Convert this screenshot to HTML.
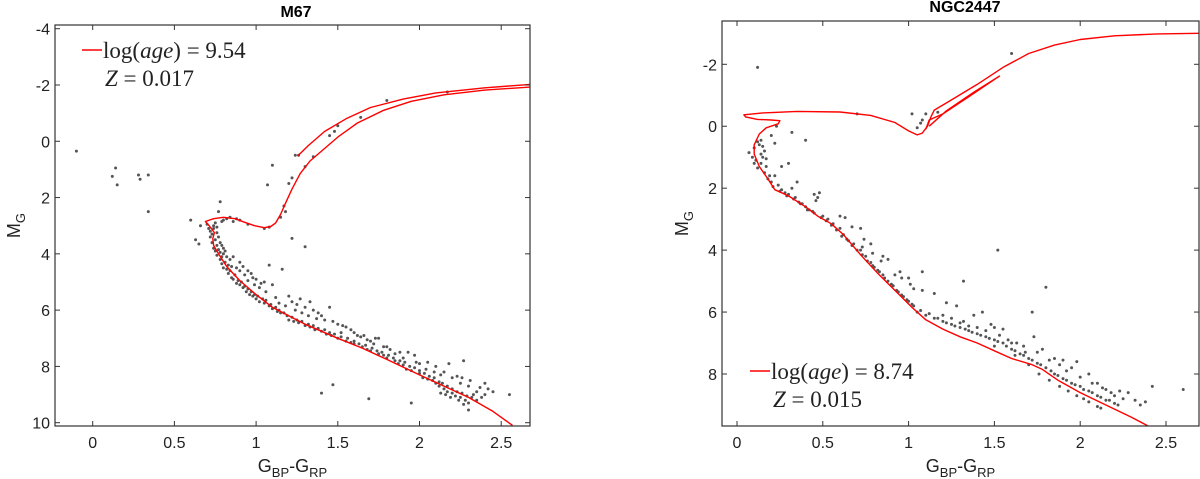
<!DOCTYPE html>
<html><head><meta charset="utf-8">
<style>
html,body{margin:0;padding:0;background:#fff;}
svg{display:block;font-family:"Liberation Sans",sans-serif;}
</style></head>
<body>
<svg id="fig" width="1200" height="479" viewBox="0 0 1200 479"></svg>
<script>
// ===== M67 data =====
const m67IsoMain = [[2.57,10.1],[2.45,9.6],[2.3,9.1],[2.15,8.7],[2.0,8.3],[1.8,7.75],[1.65,7.35],[1.5,7.0],[1.3,6.5],[1.2,6.2],[1.1,5.9],[1.0,5.45],[0.9,4.95],[0.82,4.45],[0.77,4.0],[0.74,3.7],[0.735,3.45],[0.745,3.25],[0.72,3.05],[0.69,2.85],[0.74,2.75],[0.8,2.7],[0.87,2.75],[0.93,2.88],[0.99,3.0],[1.05,3.07],[1.09,3.03],[1.12,2.9],[1.15,2.6],[1.18,2.2],[1.22,1.7],[1.27,1.15],[1.33,0.7],[1.4,0.35],[1.5,-0.15],[1.62,-0.65],[1.78,-1.1],[1.95,-1.42],[2.15,-1.65],[2.4,-1.82],[2.68,-1.93]];
const m67IsoHB = [[1.255,0.52],[1.32,0.15],[1.42,-0.35],[1.55,-0.8],[1.7,-1.2],[1.9,-1.5],[2.1,-1.72],[2.4,-1.9],[2.68,-2.02]];
const m67Stars = [[-0.1,0.35],[0.12,1.25],[0.14,0.95],[0.15,1.55],[0.28,1.2],[0.29,1.35],[0.34,1.2],[0.34,2.5],[0.6,2.8],[0.63,3.5],[0.65,3.65],[0.66,3.0],[0.7,2.95],[0.71,3.1],[0.72,3.2],[0.73,3.3],[0.74,3.0],[0.75,2.9],[0.76,3.05],[0.77,2.5],[0.78,2.15],[0.8,2.8],[0.72,3.4],[0.73,3.6],[0.74,3.8],[0.75,3.9],[0.76,4.05],[0.78,4.2],[0.79,4.35],[0.8,4.5],[0.82,4.55],[0.83,4.7],[0.85,4.85],[0.86,4.9],[0.88,5.05],[0.9,5.1],[0.92,5.2],[0.94,5.35],[0.96,5.45],[0.98,5.5],[1.0,5.6],[1.02,5.7],[1.05,5.75],[1.08,5.85],[1.1,5.95],[1.13,6.05],[1.15,6.1],[0.78,3.6],[0.8,3.8],[0.84,4.2],[0.86,4.1],[0.9,4.3],[0.92,4.45],[0.95,4.6],[0.97,4.7],[0.98,4.85],[1.0,4.9],[1.03,5.05],[1.05,5.0],[1.1,5.1],[1.08,4.4],[1.16,4.55],[1.2,5.5],[1.22,5.7],[1.25,5.8],[1.27,5.6],[1.3,5.9],[1.33,5.7],[1.38,6.1],[1.4,6.2],[1.45,5.9],[1.2,6.35],[1.23,6.4],[1.26,6.45],[1.3,6.55],[1.33,6.6],[1.36,6.7],[1.4,6.75],[1.43,6.85],[1.46,6.9],[1.5,7.0],[1.52,6.8],[1.55,7.1],[1.58,7.15],[1.6,7.2],[1.62,6.9],[1.65,7.3],[1.68,7.4],[1.7,7.45],[1.72,7.2],[1.75,7.55],[1.78,7.6],[1.8,7.7],[1.82,7.4],[1.85,7.8],[1.87,7.9],[1.9,7.95],[1.92,8.1],[1.95,8.15],[1.97,7.6],[2.0,8.25],[2.02,8.4],[2.05,8.45],[2.08,8.5],[2.1,8.6],[2.12,8.7],[2.15,8.8],[2.17,8.9],[2.2,8.95],[2.22,9.05],[2.25,9.1],[2.28,9.2],[2.3,9.3],[2.05,7.85],[2.1,8.0],[2.15,8.2],[2.2,8.4],[2.25,8.6],[2.3,8.7],[2.35,8.9],[2.4,9.0],[2.42,8.8],[2.55,9.0],[2.18,7.9],[2.27,7.8],[2.13,8.3],[2.23,8.35],[1.93,7.5],[1.98,7.85],[1.88,7.5],[1.5,6.5],[1.55,6.6],[1.6,6.8],[1.66,6.9],[1.7,7.1],[1.75,7.0],[1.8,7.3],[1.4,8.95],[1.47,8.65],[1.69,9.15],[1.95,9.3],[2.3,9.55],[1.1,0.85],[1.07,1.55],[1.2,1.5],[1.22,1.3],[1.24,0.5],[1.26,0.5],[1.3,0.9],[1.35,0.55],[1.5,-0.55],[1.48,-0.35],[1.45,-0.2],[1.64,-0.85],[1.8,-1.45],[2.17,-1.75],[1.22,3.45],[1.3,3.75],[1.17,2.3],[1.18,2.5],[1.15,2.7],[0.9,2.8],[0.95,2.95],[1.05,3.1],[1.08,3.05],[0.88,2.75],[0.82,2.75],
[0.74,3.1],[0.75,3.5],[0.76,3.7],[0.77,3.85],[0.78,3.95],[0.79,4.1],[0.81,4.3],[0.83,4.4],[0.84,4.6],[0.87,4.75],[0.89,4.95],[0.91,5.0],[0.93,5.15],[0.95,5.25],[0.97,5.35],[0.99,5.45],[1.01,5.5],[1.04,5.6],[1.06,5.65],[1.09,5.8],[1.12,5.9],[1.14,6.0],[1.17,6.1],[1.19,6.2],[1.22,6.25],[1.25,6.35],[1.28,6.4],[1.32,6.5],[1.35,6.55],[1.38,6.65],[1.42,6.7],[1.45,6.8],[1.48,6.85],[1.52,6.95],[1.56,7.0],[1.6,7.1],[1.63,7.2],[1.67,7.25],[1.71,7.35],[1.74,7.45],[1.77,7.5],[1.81,7.6],[1.84,7.7],[1.88,7.8],[1.91,7.85],[1.94,8.0],[1.97,8.05],[2.0,8.15],[2.03,8.25],[2.06,8.35],[2.09,8.4],[2.12,8.55],[2.14,8.6],[2.17,8.7],[2.2,8.8],[2.23,8.9],[2.26,8.95],[2.29,9.05],[2.32,9.1],[2.35,9.2],[2.19,9.1],[2.16,9.0],[2.13,8.95],[2.24,9.2],[2.27,9.35],[2.33,9.0],[2.37,8.75],[2.4,8.6],[2.38,9.1],[2.45,8.9],[2.26,8.4],[2.31,8.5],[2.09,8.2],[2.04,8.1],[2.0,7.9],[1.9,7.7],[1.85,7.55],[1.78,7.3],[1.73,7.0],[1.68,7.05],[1.64,6.95],[1.58,6.7],[1.53,6.55],[1.47,6.4],[1.42,6.35],[1.37,6.3],[1.35,6.0],[1.32,6.2],[1.28,6.1],[1.24,6.0],[1.18,5.85],[1.14,5.75],[1.12,5.55],[1.06,5.35],[1.02,5.2],[0.99,5.1],[0.95,4.95],[0.93,4.75],[0.9,4.6],[0.88,4.5],[0.85,4.45],[0.82,4.1],[0.8,4.0],[0.79,3.7],[0.81,3.9],[0.77,3.4],[0.76,3.25],[0.79,2.85],[0.84,2.7],[0.86,2.85]];

// ===== NGC2447 data =====
const n2447IsoMain = [[2.41,9.72],[2.3,9.4],[2.15,9.0],[2.0,8.6],[1.87,8.2],[1.78,7.85],[1.72,7.7],[1.6,7.5],[1.5,7.25],[1.4,7.0],[1.3,6.8],[1.2,6.55],[1.1,6.25],[1.02,5.85],[0.92,5.3],[0.82,4.75],[0.72,4.15],[0.62,3.5],[0.55,3.15],[0.47,2.9],[0.4,2.6],[0.3,2.25],[0.22,2.05],[0.18,1.7],[0.13,1.3],[0.1,0.9],[0.1,0.6],[0.13,0.25],[0.17,0.05],[0.24,-0.08],[0.25,-0.18],[0.2,-0.2],[0.12,-0.22],[0.05,-0.3],[0.04,-0.37],[0.15,-0.43],[0.35,-0.48],[0.6,-0.46],[0.78,-0.35],[0.92,-0.12],[1.0,0.15],[1.05,0.28],[1.08,0.22],[1.11,0.0],[1.13,-0.3],[1.15,-0.52],[1.25,-0.85],[1.4,-1.35],[1.55,-1.9],[1.7,-2.35],[1.85,-2.62],[2.0,-2.8],[2.2,-2.92],[2.45,-2.98],[2.72,-3.0]];
const n2447IsoLoop = [[1.1,0.1],[1.12,-0.2],[1.2,-0.4],[1.35,-0.95],[1.53,-1.62],[1.38,-1.1],[1.22,-0.5],[1.12,0.0]];
const n2447Stars = [[0.12,-1.9],[1.6,-2.35],[0.7,-0.4],[1.02,-0.4],[1.05,0.05],[1.07,-0.1],[1.08,-0.2],[1.1,-0.4],[1.17,-0.45],[0.32,0.2],[0.4,0.45],[0.23,0.0],[0.2,0.3],[0.22,0.55],[0.07,0.85],[0.1,0.7],[0.11,1.1],[0.12,0.5],[0.13,0.6],[0.14,0.9],[0.15,0.65],[0.16,0.8],[0.17,1.05],[0.12,1.35],[0.14,1.2],[0.16,1.5],[0.18,1.7],[0.2,1.8],[0.22,1.6],[0.24,1.9],[0.26,2.05],[0.28,2.15],[0.3,2.2],[0.32,2.0],[0.34,2.3],[0.36,2.45],[0.38,2.5],[0.4,2.6],[0.42,2.7],[0.45,2.8],[0.47,2.3],[0.48,2.15],[0.35,1.8],[0.3,1.2],[0.26,1.3],[0.5,2.9],[0.53,3.0],[0.56,3.15],[0.6,3.3],[0.62,3.5],[0.65,3.7],[0.68,3.8],[0.72,4.0],[0.75,4.2],[0.78,4.4],[0.8,4.55],[0.83,4.7],[0.86,4.9],[0.9,5.1],[0.93,5.3],[0.96,5.45],[0.99,5.6],[1.02,5.75],[0.6,2.9],[0.67,3.25],[0.74,3.65],[0.78,3.8],[0.73,3.9],[0.85,4.2],[0.88,4.3],[0.92,4.8],[0.95,4.7],[1.0,4.9],[1.03,5.25],[1.08,5.3],[1.15,5.4],[1.05,6.0],[1.1,6.1],[1.15,6.2],[1.2,6.3],[1.25,6.4],[1.3,6.5],[1.35,6.6],[1.4,6.7],[1.45,6.8],[1.5,6.9],[1.55,7.0],[1.6,7.2],[1.65,7.35],[1.7,7.5],[1.75,7.65],[1.8,7.8],[1.85,8.0],[1.9,8.15],[1.95,8.3],[2.0,8.4],[2.05,8.55],[2.1,8.7],[2.15,8.85],[2.2,8.95],[1.22,5.7],[1.28,5.8],[1.32,6.3],[1.38,6.1],[1.43,6.0],[1.5,6.5],[1.55,6.55],[1.6,7.0],[1.68,7.3],[1.73,6.8],[1.78,7.2],[1.85,7.5],[1.9,7.55],[1.95,7.8],[1.98,7.6],[2.05,8.0],[2.1,8.3],[2.15,8.5],[2.2,8.7],[2.25,8.8],[2.28,8.6],[2.32,8.85],[2.35,9.0],[2.38,8.9],[2.42,8.4],[2.6,8.5],[2.02,8.8],[2.12,9.1],[1.72,6.0],[1.8,5.2],[1.52,4.0],[1.32,5.0],[1.08,4.7],[1.5,7.1],[1.62,7.4],[1.7,7.7],[1.76,8.0],[1.82,8.2],[1.88,8.4],[1.93,8.55],[1.98,8.7],[2.05,8.9],[2.1,9.05],
[0.21,1.95],[0.25,2.1],[0.29,2.25],[0.33,2.35],[0.37,2.5],[0.41,2.7],[0.44,2.75],[0.49,2.95],[0.52,3.05],[0.55,3.2],[0.58,3.35],[0.61,3.55],[0.64,3.65],[0.67,3.85],[0.7,4.0],[0.73,4.15],[0.76,4.35],[0.79,4.5],[0.82,4.65],[0.85,4.8],[0.88,5.0],[0.91,5.15],[0.94,5.35],[0.97,5.5],[1.0,5.65],[1.03,5.8],[1.07,5.95],[1.12,6.05],[1.17,6.2],[1.22,6.35],[1.27,6.45],[1.33,6.55],[1.37,6.65],[1.42,6.75],[1.47,6.85],[1.52,6.95],[1.57,7.1],[1.62,7.25],[1.67,7.4],[1.72,7.55],[1.77,7.7],[1.83,7.9],[1.87,8.05],[1.92,8.2],[1.97,8.35],[2.02,8.5],[2.07,8.6],[2.12,8.75],[2.17,8.85],[2.22,9.0],[1.2,6.1],[1.25,6.2],[1.3,6.35],[1.35,6.45],[1.4,6.5],[1.45,6.6],[1.48,6.4],[1.53,6.75],[1.58,6.9],[1.63,7.0],[1.67,7.1],[1.75,7.3],[1.82,7.55],[1.88,7.7],[1.92,7.9],[2.0,8.1],[2.07,8.3],[2.13,8.45],[2.18,8.6],[2.23,8.55],[0.45,2.2],[0.46,2.4],[0.63,2.95],[0.72,3.3],[0.79,4.1],[0.84,4.35],[0.96,4.9],[1.01,5.1],[0.17,1.3],[0.19,1.6],[0.14,0.45],[0.15,1.0],[0.1,1.2],[0.09,1.0]];

const svg = document.getElementById('fig');
const NS = 'http://www.w3.org/2000/svg';
function mk(tag, attrs, parent){ const e=document.createElementNS(NS,tag); for(const k in attrs) e.setAttribute(k,attrs[k]); (parent||svg).appendChild(e); return e; }

function drawPanel(cfg){
  const g = mk('g',{});
  
  
  const sx = v => cfg.x0px + (v - cfg.xa)/(cfg.xb - cfg.xa)*(cfg.x1px - cfg.x0px);
  const sy = v => cfg.y0px + (v - cfg.ya)/(cfg.yb - cfg.ya)*(cfg.y1px - cfg.y0px);
  const L=cfg.left,R=cfg.right,T=cfg.top,B=cfg.bottom;
  const clipId = cfg.name+'-clip';
  const defs = mk('defs',{},g); const cp = mk('clipPath',{id:clipId},defs); mk('rect',{x:L,y:T,width:R-L,height:B-T},cp);
  const sg = mk('g',{'clip-path':'url(#'+clipId+')'},g);
  
  
  cfg.stars.forEach(p=>{ const c=mk('circle',{cx:sx(p[0]).toFixed(1),cy:sy(p[1]).toFixed(1),r:1.5,fill:'#555'},sg);
    
     });
  cfg.isos.forEach((iso,i)=>{ const d=iso.map((p,j)=>(j?'L':'M')+sx(p[0]).toFixed(1)+' '+sy(p[1]).toFixed(1)).join(' ');
    const pth=mk('path',{d:d,fill:'none',stroke:'#f00','stroke-width':1.4,'stroke-linejoin':'round','clip-path':'url(#'+clipId+')'},g);
    
     });
  const box=mk('rect',{x:L,y:T,width:R-L,height:B-T,fill:'none',stroke:'#333','stroke-width':1.2},g);
  
  
  cfg.xticks.forEach(t=>{ const x=sx(t);
    mk('line',{x1:x,x2:x,y1:B,y2:B-5,stroke:'#333'},g); mk('line',{x1:x,x2:x,y1:T,y2:T+5,stroke:'#333'},g);
    const tx=mk('text',{x:x,y:B+22,'font-size':16,'text-anchor':'middle',fill:'#222'},g); tx.textContent=String(t);
    
     });
  cfg.yticks.forEach(t=>{ const y=sy(t);
    mk('line',{x1:L,x2:L+5,y1:y,y2:y,stroke:'#333'},g); mk('line',{x1:R,x2:R-5,y1:y,y2:y,stroke:'#333'},g);
    const tx=mk('text',{x:L-5,y:y+6,'font-size':16,'text-anchor':'end',fill:'#222'},g); tx.textContent=String(t);
    
     });
  const title=mk('text',{x:cfg.titleX,y:cfg.titleY,'font-size':16,'font-weight':'bold','text-anchor':'middle',fill:'#000'},g);
  title.textContent=cfg.title;
  
  
  const xl=mk('text',{x:(L+R)/2,y:B+46,'font-size':18,'text-anchor':'middle',fill:'#222'},g);
  xl.innerHTML='G<tspan font-size="13" dy="5">BP</tspan><tspan dy="-5">-G</tspan><tspan font-size="13" dy="5">RP</tspan>';
  
  
  const yl=mk('text',{transform:'translate('+cfg.ylabX+','+(T+B)/2+') rotate(-90)','font-size':18,'text-anchor':'middle',fill:'#222'},g);
  yl.innerHTML='M<tspan font-size="13" dy="5">G</tspan>';
  
  
  const lg=mk('g',{},g);
  
  
  mk('line',{x1:cfg.legX,x2:cfg.legX+20,y1:cfg.legY,y2:cfg.legY,stroke:'#f00','stroke-width':1.5},lg);
  const t1=mk('text',{x:cfg.legX+21,y:cfg.legY+8,'font-size':23,fill:'#222','font-family':'Liberation Serif, serif'},lg);
  t1.innerHTML='log(<tspan font-style="italic">age</tspan>) = '+cfg.age;
  const t2=mk('text',{x:cfg.legX+23,y:cfg.legY+36,'font-size':23,fill:'#222','font-family':'Liberation Serif, serif'},lg);
  t2.innerHTML='<tspan font-style="italic">Z</tspan> = '+cfg.z;
}

drawPanel({name:'m67-panel',title:'M67',titleX:296,titleY:17,left:55,right:530,top:25,bottom:426,
  xa:0,xb:2.5,x0px:92.7,x1px:501.2,ya:-4,yb:10,y0px:28.7,y1px:422.7,
  xticks:[0,0.5,1,1.5,2,2.5],yticks:[-4,-2,0,2,4,6,8,10],ylabX:20,
  stars:m67Stars,isos:[m67IsoMain,m67IsoHB],legX:82,legY:50,age:'9.54',z:'0.017'});
drawPanel({name:'ngc2447-panel',title:'NGC2447',titleX:965,titleY:12,left:722,right:1199,top:21,bottom:426,
  xa:0,xb:2.5,x0px:737,x1px:1166,ya:-2,yb:8,y0px:64.3,y1px:374,
  xticks:[0,0.5,1,1.5,2,2.5],yticks:[-2,0,2,4,6,8],ylabX:688,
  stars:n2447Stars,isos:[n2447IsoMain,n2447IsoLoop],legX:750,legY:371,age:'8.74',z:'0.015'});
</script>
</body></html>
